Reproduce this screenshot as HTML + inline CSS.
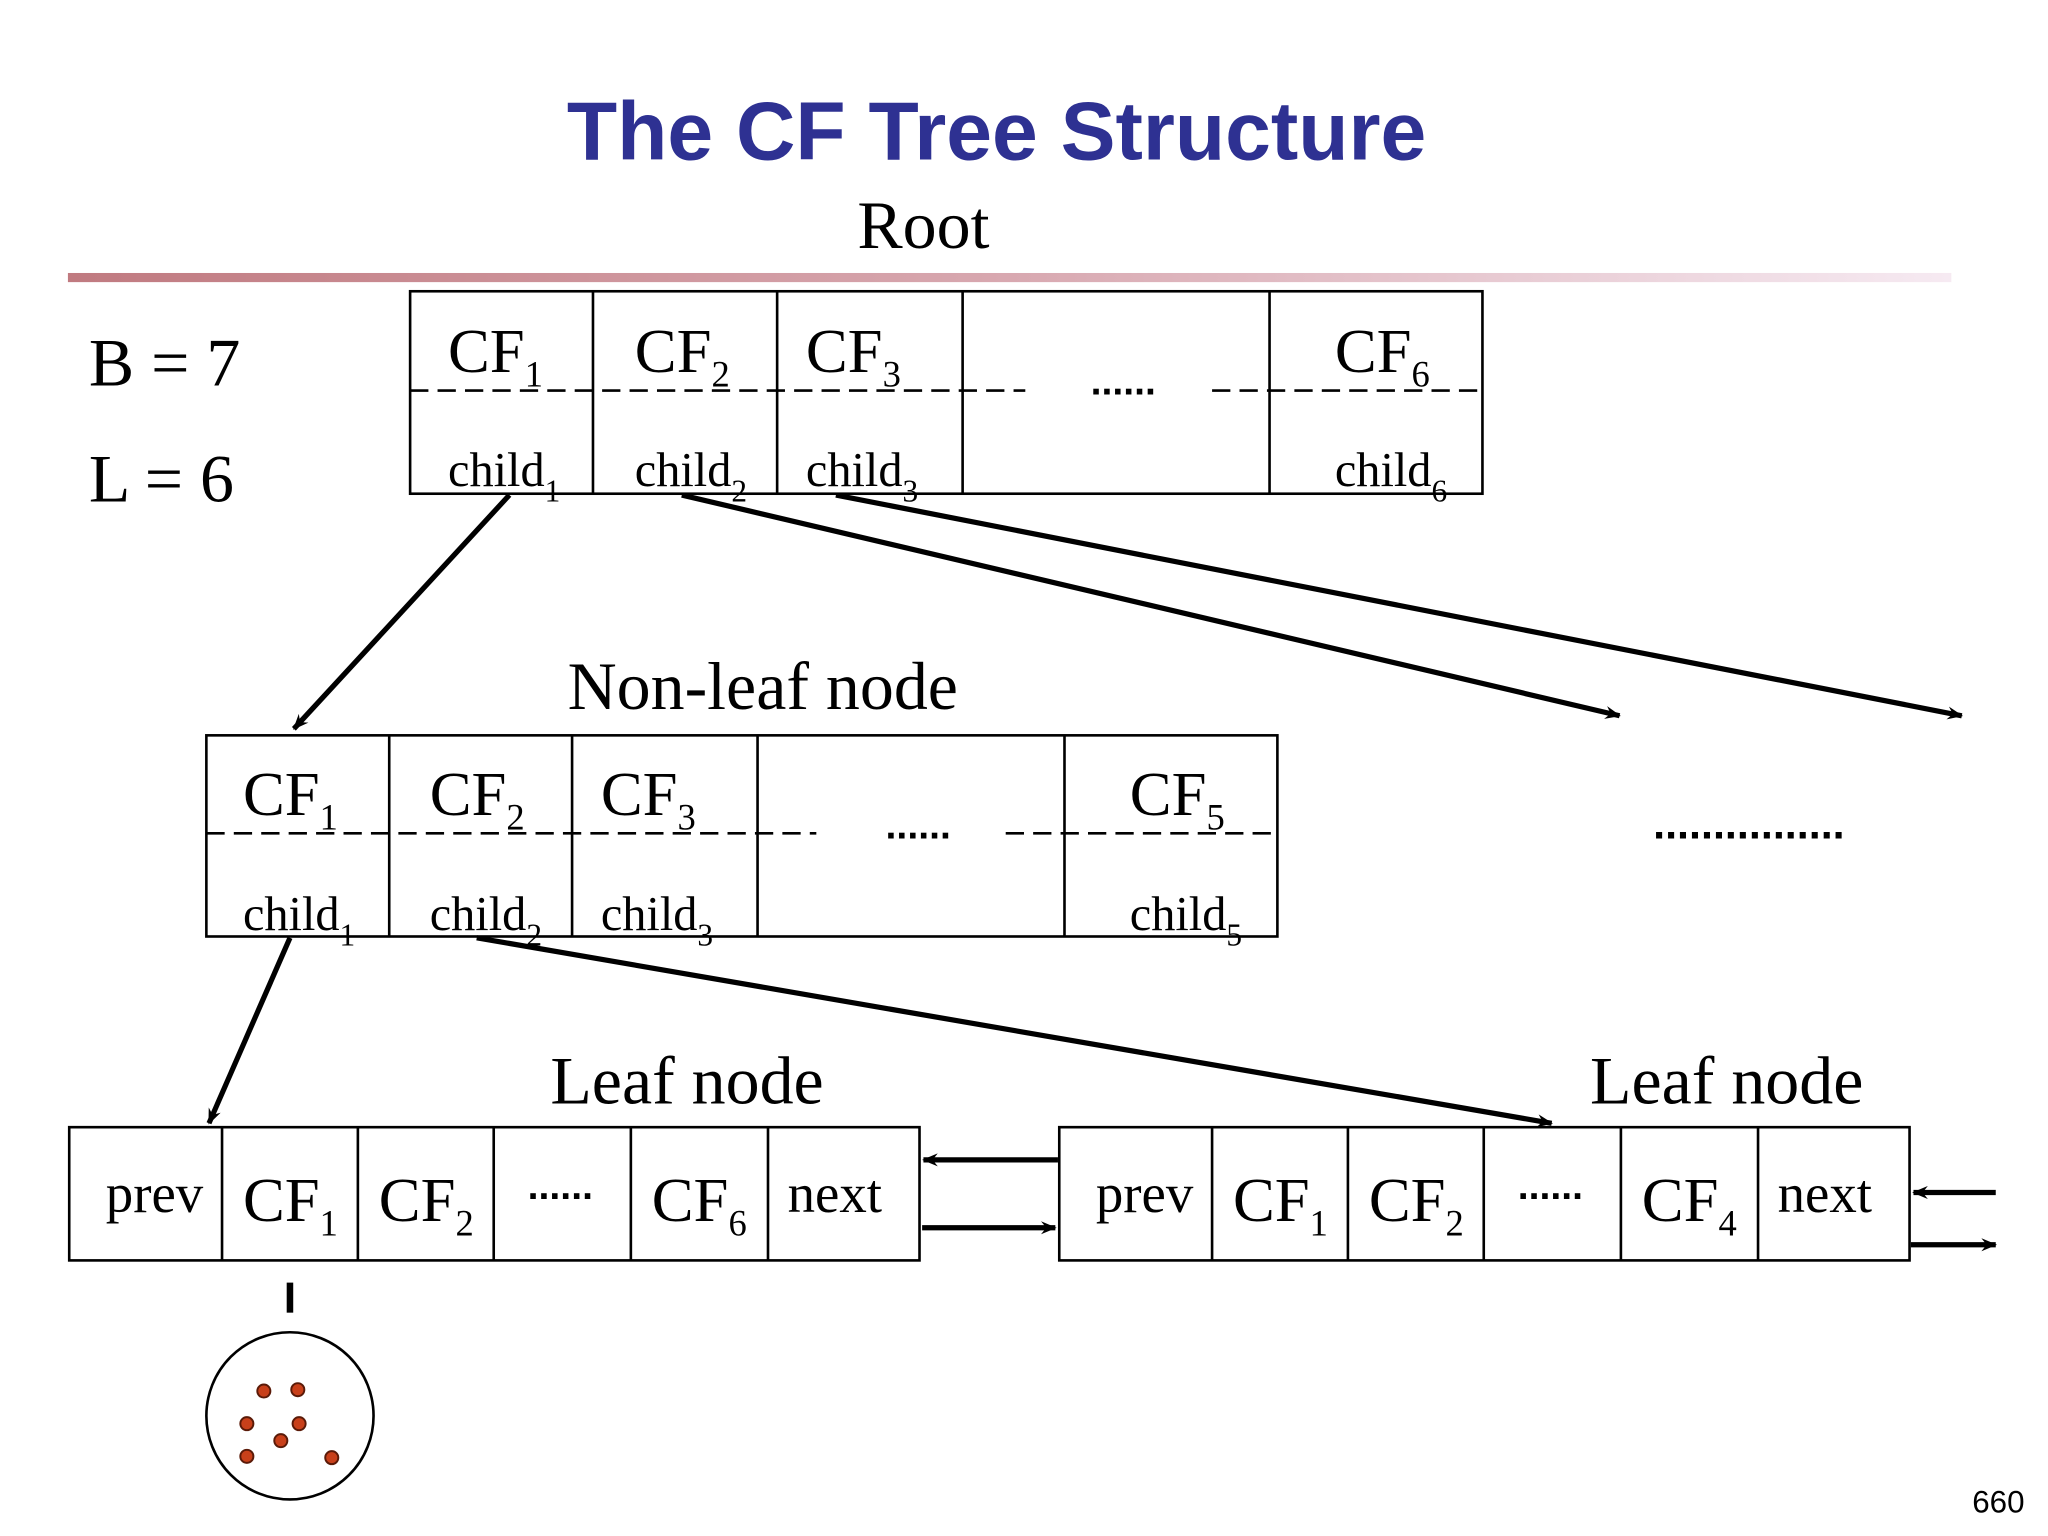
<!DOCTYPE html>
<html><head><meta charset="utf-8"><style>
html,body{margin:0;padding:0;background:#fff;}
svg{display:block;}
.s{font-family:"Liberation Serif",serif;fill:#000;}
</style></head><body>
<svg width="2048" height="1536" viewBox="0 0 1568 1176" xmlns="http://www.w3.org/2000/svg">
<defs>
<linearGradient id="g" x1="0" x2="1" y1="0" y2="0">
<stop offset="0" stop-color="#c07a80"/><stop offset="0.5" stop-color="#d8a8b0"/><stop offset="1" stop-color="#f6eaf2"/>
</linearGradient>
<marker id="a" viewBox="0 0 12 10" refX="11" refY="5" markerWidth="12" markerHeight="10" markerUnits="userSpaceOnUse" orient="auto">
<path d="M0,0 L12,5 L0,10 L4,5 Z" fill="#000"/>
</marker>
</defs>
<text x="763" y="122" text-anchor="middle" font-family="Liberation Sans, sans-serif" font-weight="bold" font-size="63" fill="#2E3192">The CF Tree Structure</text>
<text x="707" y="190" text-anchor="middle" class="s" font-size="52">Root</text>
<rect x="52" y="209" width="1442" height="7" fill="url(#g)"/>
<text x="68" y="295" class="s" font-size="52">B = 7</text>
<text x="68" y="384" class="s" font-size="52">L = 6</text>

<g fill="none" stroke="#000" stroke-width="2">
<rect x="314" y="223" width="821" height="155"/>
<path d="M454,223V378M595,223V378M737,223V378M972,223V378"/>
<rect x="158" y="563" width="820" height="154"/>
<path d="M298,563V717M438,563V717M580,563V717M815,563V717"/>
<rect x="53" y="863" width="651" height="102"/>
<path d="M170,863V965M274,863V965M378,863V965M483,863V965M588,863V965"/>
<rect x="811" y="863" width="651" height="102"/>
<path d="M928,863V965M1032,863V965M1136,863V965M1241,863V965M1346,863V965"/>
<path d="M314,299H785M928,299H1135M158,638H625M770,638H978" stroke-dasharray="14,7"/>
</g>
<g class="s" font-size="48">
<text x="343" y="285">CF<tspan font-size="28" dy="11">1</tspan></text>
<text x="486" y="285">CF<tspan font-size="28" dy="11">2</tspan></text>
<text x="617" y="285">CF<tspan font-size="28" dy="11">3</tspan></text>
<text x="1022" y="285">CF<tspan font-size="28" dy="11">6</tspan></text>
<text x="186" y="624">CF<tspan font-size="28" dy="11">1</tspan></text>
<text x="329" y="624">CF<tspan font-size="28" dy="11">2</tspan></text>
<text x="460" y="624">CF<tspan font-size="28" dy="11">3</tspan></text>
<text x="865" y="624">CF<tspan font-size="28" dy="11">5</tspan></text>
<text x="186" y="935">CF<tspan font-size="28" dy="11">1</tspan></text>
<text x="290" y="935">CF<tspan font-size="28" dy="11">2</tspan></text>
<text x="499" y="935">CF<tspan font-size="28" dy="11">6</tspan></text>
<text x="944" y="935">CF<tspan font-size="28" dy="11">1</tspan></text>
<text x="1048" y="935">CF<tspan font-size="28" dy="11">2</tspan></text>
<text x="1257" y="935">CF<tspan font-size="28" dy="11">4</tspan></text>
</g>
<g class="s" font-size="52" text-anchor="middle">
<text x="584" y="543">Non-leaf node</text>
<text x="526" y="845">Leaf node</text>
<text x="1322" y="845">Leaf node</text>
</g>
<g class="s" font-size="37">
<text x="343" y="372">child<tspan font-size="24" dy="12">1</tspan></text>
<text x="486" y="372">child<tspan font-size="24" dy="12">2</tspan></text>
<text x="617" y="372">child<tspan font-size="24" dy="12">3</tspan></text>
<text x="1022" y="372">child<tspan font-size="24" dy="12">6</tspan></text>
<text x="186" y="712">child<tspan font-size="24" dy="12">1</tspan></text>
<text x="329" y="712">child<tspan font-size="24" dy="12">2</tspan></text>
<text x="460" y="712">child<tspan font-size="24" dy="12">3</tspan></text>
<text x="865" y="712">child<tspan font-size="24" dy="12">5</tspan></text>
<text x="81" y="928" font-size="42">prev</text>
<text x="603" y="928" font-size="42">next</text>
<text x="839" y="928" font-size="42">prev</text>
<text x="1361" y="928" font-size="42">next</text>
</g>
<g font-family="Liberation Sans, sans-serif" font-weight="bold" text-anchor="middle" fill="#000">
<text x="860" y="302" font-size="30">......</text>
<text x="703" y="642" font-size="30">......</text>
<text x="1339" y="642" font-size="33">................</text>
<text x="429" y="918" font-size="30">......</text>
<text x="1187" y="918" font-size="30">......</text>
</g>
<g stroke="#000" stroke-width="4" fill="none" marker-end="url(#a)">
<line x1="390" y1="379" x2="225" y2="558"/>
<line x1="522" y1="379" x2="1240" y2="548"/>
<line x1="640" y1="379" x2="1502" y2="548"/>
<line x1="222" y1="718" x2="160" y2="860"/>
<line x1="365" y1="718" x2="1188" y2="860"/>
<line x1="810" y1="888" x2="707" y2="888"/>
<line x1="706" y1="940" x2="808" y2="940"/>
<line x1="1528" y1="913" x2="1465" y2="913"/>
<line x1="1463" y1="953" x2="1528" y2="953"/>
</g>
<line x1="222" y1="982" x2="222" y2="1005" stroke="#000" stroke-width="5"/>
<circle cx="222" cy="1084" r="64" fill="none" stroke="#000" stroke-width="2"/>
<g fill="#c8401a" stroke="#5a1a08" stroke-width="1.5">
<circle cx="202" cy="1065" r="5"/><circle cx="228" cy="1064" r="5"/>
<circle cx="189" cy="1090" r="5"/><circle cx="229" cy="1090" r="5"/>
<circle cx="215" cy="1103" r="5"/><circle cx="189" cy="1115" r="5"/>
<circle cx="254" cy="1116" r="5"/>
</g>
<text x="1530" y="1158" text-anchor="middle" font-family="Liberation Sans, sans-serif" font-size="24" fill="#000">660</text>
</svg>
</body></html>
